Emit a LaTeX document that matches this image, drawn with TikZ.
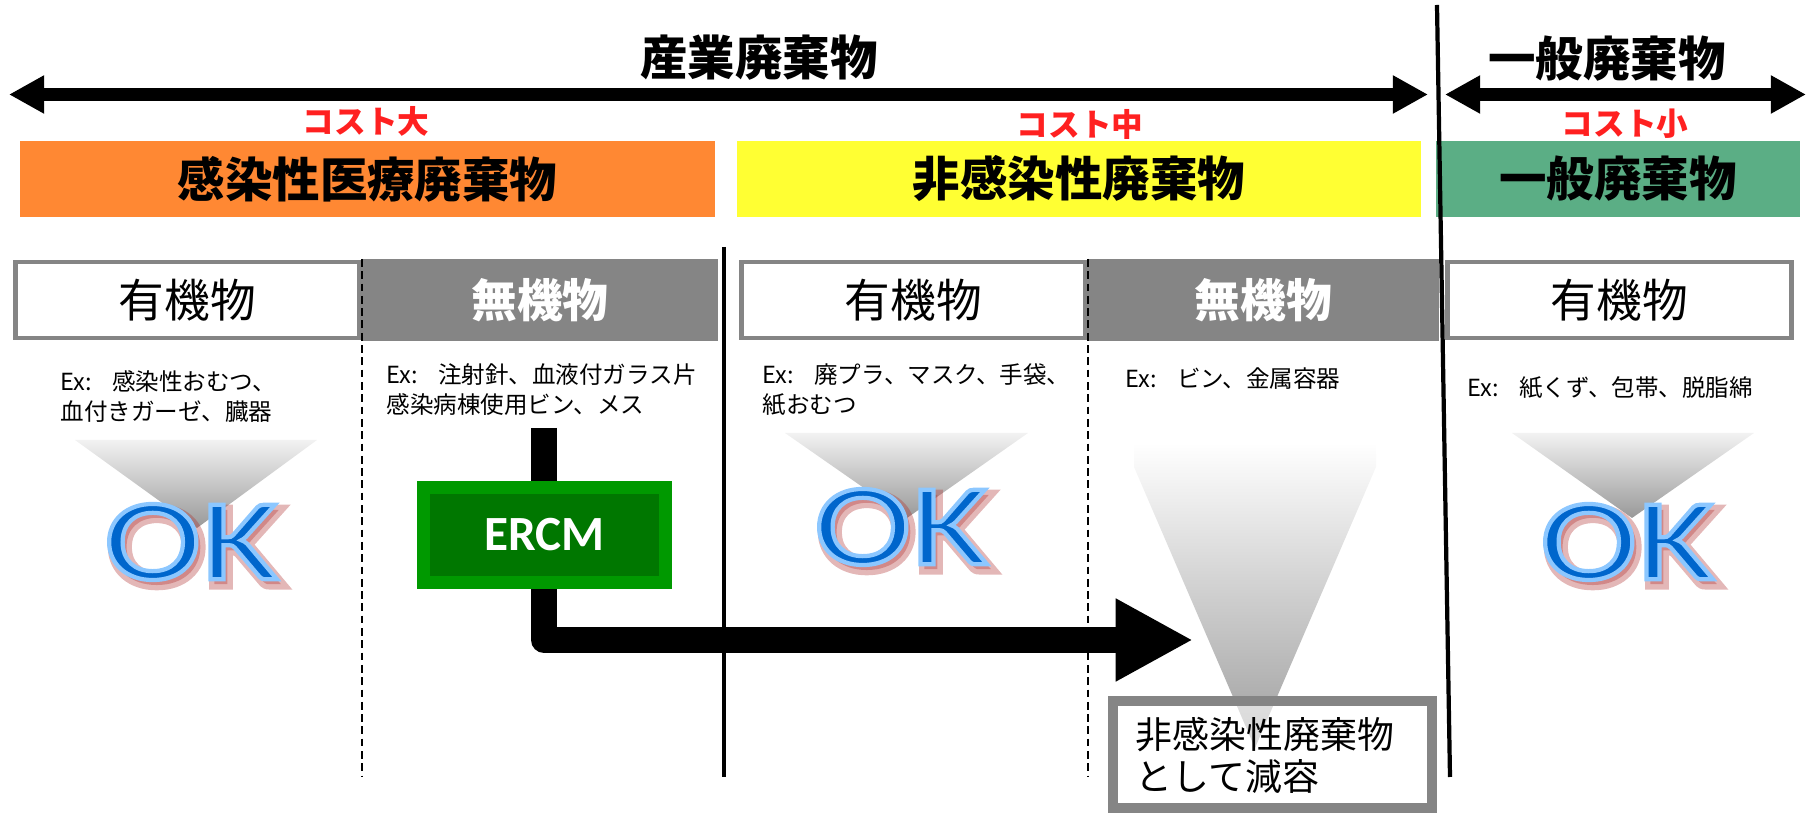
\documentclass[tikz,border=0pt]{standalone}
\usepackage{fontspec}
\setmainfont{Carlito}
\newfontfamily\jp{Noto Sans CJK JP}
\newfontfamily\okfont[FakeStretch=1.27]{Carlito}
\usetikzlibrary{arrows.meta,calc}

\definecolor{infect}{HTML}{FF8833}
\definecolor{noninfect}{HTML}{FFFF33}
\definecolor{general}{HTML}{5BAE85}
\definecolor{boxgray}{HTML}{858585}
\definecolor{costred}{HTML}{FF2020}
\definecolor{ercmlight}{HTML}{009900}
\definecolor{ercmdark}{HTML}{007700}
\definecolor{okblue}{HTML}{0066CC}
\definecolor{okshadow}{HTML}{B03030}

\tikzset{
  toparrow/.style={line width=3.7pt, >={Triangle[length=10pt,width=10.2pt]}, <->},
  bigarrow/.style={line width=7.4pt, line join=round, >={Triangle[length=22pt,width=22pt]}, ->},
  headtext/.style={inner sep=0, font=\jp\bfseries\fontsize{13.5}{16}\selectfont},
  costtext/.style={inner sep=0, text=costred, font=\jp\bfseries\fontsize{9}{11}\selectfont},
  catbox/.style={minimum height=7.6mm, inner sep=0, font=\jp\bfseries\fontsize{13.5}{16}\selectfont},
  orgbox/.style={draw=boxgray, line width=1.4pt, fill=white, minimum height=7.6mm, inner sep=0,
    font=\jp\fontsize{13}{15}\selectfont},
  inorgbox/.style={fill=boxgray, text=white, minimum height=8.2mm, inner sep=0,
    font=\jp\bfseries\fontsize{13}{15}\selectfont},
  extext/.style={anchor=base west, align=left, inner sep=0, font=\jp\fontsize{6.7}{8.8}\selectfont},
  divider/.style={line width=0.6pt, dash pattern=on 2.2pt off 1.3pt},
  fade/.style={top color=gray!10, bottom color=gray!80},
  okmark/.style={inner sep=0, font=\okfont\fontsize{33}{33}\selectfont},
  ercmbox/.style={fill=ercmdark, draw=ercmlight, line width=3.7pt, minimum width=24.2mm,
    minimum height=9.5mm, text=white, font=\bfseries\fontsize{14}{16}\selectfont},
  resultbox/.style={draw=boxgray, line width=2.85pt, fill=white, fill opacity=.6,
    minimum width=31.9mm, minimum height=10.7mm},
  resulttext/.style={anchor=base west, align=left, inner sep=0, font=\jp\fontsize{10.5}{12.2}\selectfont}
}

% OK: blue letters with a light blue outline and a red shadow
\newcommand{\okstroke}[2]{%
  \special{pdf:literal direct q 2 Tr #1}#2\special{pdf:literal direct 0 Tr Q}}
\newcommand{\okstamp}[2]{%
  \node[okmark, text=okshadow, opacity=.35] (#1s) at ($(#2)+(4,5)$) {\okstroke{3 w}{OK}};
  \node[okmark, text=okblue] (#1) at (#2) {\okstroke{1.2 w 0.55 0.78 1 RG}{OK}};
}
\newcommand{\exgap}{\hspace{0.85em}}

\begin{document}
\begin{tikzpicture}[x=0.1mm,y=-0.1mm]
  \useasboundingbox (0,0) rectangle (1813,814);

  % waste classes on top
  \coordinate (indl) at (9,94.5);
  \coordinate (indr) at (1428,94.5);
  \coordinate (genl) at (1445,94.5);
  \coordinate (genr) at (1806,94.5);
  \draw[toparrow] (indl) -- (indr);
  \draw[toparrow] (genl) -- (genr);
  \node[headtext] (indhead) at (759,58) {産業廃棄物};
  \node[headtext] (genhead) at (1607,59) {一般廃棄物};

  \node[costtext] (costhi) at (366,121) {コスト大};
  \node[costtext] (costmid) at (1080,124) {コスト中};
  \node[costtext] (costlo) at (1625,124) {コスト小};

  \node[catbox, fill=infect, minimum width=69.5mm] (infectbox) at (367.5,179) {感染性医療廃棄物};
  \node[catbox, fill=noninfect, minimum width=68.4mm] (noninfbox) at (1079,179) {非感染性廃棄物};
  \node[catbox, fill=general, minimum width=36.4mm] (genbox) at (1618,179) {一般廃棄物};

  % organic / inorganic row
  \node[orgbox, minimum width=34.4mm] (org1) at (187.5,300) {有機物};
  \node[inorgbox, minimum width=35.6mm] (inorg1) at (540,300) {無機物};
  \node[orgbox, minimum width=34.4mm] (org2) at (913.5,300) {有機物};
  \node[inorgbox, minimum width=35.1mm] (inorg2) at (1263.5,300) {無機物};
  \node[orgbox, minimum width=34.4mm] (org3) at (1619.5,300) {有機物};

  \draw[divider] (362,259) -- (362,777);
  \draw[divider] (1088,259) -- (1088,777);
  \draw[line width=0.9pt] (724,247) -- (724,777);
  \draw[line width=1.2pt] (1437,5) -- (1450,777);

  % examples (two-line nodes sit on their last baseline)
  \node[extext] (ex1) at (60,421) {Ex:\exgap 感染性おむつ、\\血付きガーゼ、臓器};
  \node[extext] (ex2) at (386,414) {Ex:\exgap 注射針、血液付ガラス片\\感染病棟使用ビン、メス};
  \node[extext] (ex3) at (762,414) {Ex:\exgap 廃プラ、マスク、手袋、\\紙おむつ};
  \node[extext] (ex4) at (1125,388) {Ex:\exgap ビン、金属容器};
  \node[extext] (ex5) at (1467,397) {Ex:\exgap 紙くず、包帯、脱脂綿};

  % funnels
  \shade[fade] (75,440) -- (317,440) -- (197,528) -- cycle;
  \shade[fade] (785,433) -- (1028,433) -- (907,518) -- cycle;
  \shade[fade] (1512,433) -- (1754,433) -- (1632,518) -- cycle;
  \shade[top color=white, bottom color=gray!76]
    (1134,443) -- (1376,443) -- (1376,467) -- (1255,748) -- (1134,467) -- cycle;

  \okstamp{ok1}{191,542}
  \okstamp{ok2}{901,527}
  \okstamp{ok3}{1627,542}

  % ERCM route
  \coordinate (feed) at (544,428);
  \coordinate (push) at (1193,640);
  \draw[bigarrow] (feed) |- (push);
  \node[ercmbox] (ercm) at (544.5,535) {ERCM};

  \node[resultbox] (reduce) at (1272.5,754.5) {};
  \node[resulttext] (reducetext) at (1135,791) {非感染性廃棄物\\として減容};
\end{tikzpicture}
\end{document}
